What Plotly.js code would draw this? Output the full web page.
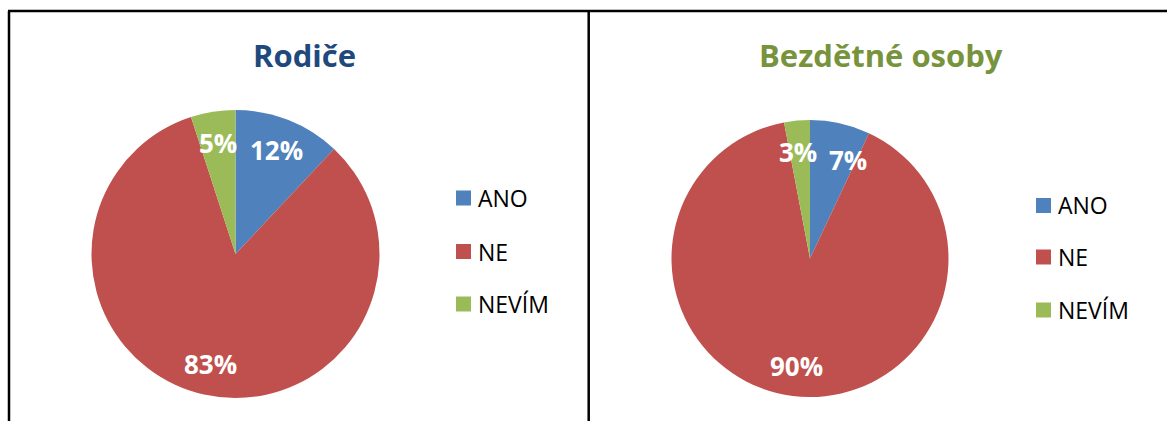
<!DOCTYPE html>
<html>
<head>
<meta charset="utf-8">
<script src="https://cdn.plot.ly/plotly-3.0.1.min.js"></script>
<style>html,body{margin:0;padding:0;background:#fff;}#chart{width:1167px;height:421px;}</style>
</head>
<body>
<div id="chart"></div>
<script>
// ---- data ----
const categories = ["ANO", "NE", "NEVÍM"];
const titles = ["Rodiče", "Bezdětné osoby"];
const parentsValues = [12, 83, 5];
const childlessValues = [7, 90, 3];
const sliceColors = ["#4F81BD", "#C0504D", "#9BBB59"];
const titleColors = ["#1F497D", "#77933C"];

// ---- layout helpers (pixels -> paper) ----
const W = 1167, H = 421;
const px = x => x / W;
const py = y => 1 - y / H;
const FONT = "Open Sans, Liberation Sans, sans-serif";

const pies = [
  {values: parentsValues, cx: 235.5, cy: 254, r: 144, titleX: 304, legendX: 456, legendY: [198, 251.5, 304],
   labelNudge: [[0, 0], [0, 0], [0, 0]]},
  {values: childlessValues, cx: 810, cy: 258.5, r: 138.5, titleX: 881, legendX: 1036, legendY: [205.5, 257, 310],
   labelNudge: [[14, 7], [0, 0], [-2, 1]]}
];

const data = [];
const annotations = [];
const shapes = [];

pies.forEach((p, i) => {
  data.push({
    type: "pie",
    labels: categories,
    values: p.values,
    sort: false,
    direction: "clockwise",
    rotation: 0,
    textinfo: "none",
    hoverinfo: "label+percent",
    showlegend: false,
    marker: {colors: sliceColors, line: {width: 0}},
    domain: {x: [px(p.cx - p.r), px(p.cx + p.r)], y: [py(p.cy + p.r), py(p.cy - p.r)]}
  });

  // title
  annotations.push({
    text: titles[i], xref: "paper", yref: "paper",
    x: px(p.titleX), y: py(55), xanchor: "center", yanchor: "middle", showarrow: false,
    font: {family: FONT, size: 31, color: titleColors[i], weight: "bold"}
  });

  // percentage labels
  const total = p.values.reduce((a, b) => a + b, 0);
  let cum = 0;
  p.values.forEach((v, k) => {
    const mid = (cum + v / 2) / total * 2 * Math.PI;
    cum += v;
    const f = 0.78;
    const x = p.cx + f * p.r * Math.sin(mid) + p.labelNudge[k][0];
    const y = p.cy - f * p.r * Math.cos(mid) + p.labelNudge[k][1];
    annotations.push({
      text: Math.round(v / total * 100) + "%", xref: "paper", yref: "paper",
      x: px(x), y: py(y), xanchor: "center", yanchor: "middle", showarrow: false,
      font: {family: FONT, size: 26, color: "#FFFFFF", weight: "bold"}
    });
  });

  // legend
  categories.forEach((c, k) => {
    const ly = p.legendY[k];
    shapes.push({
      type: "rect", xref: "paper", yref: "paper",
      x0: px(p.legendX), x1: px(p.legendX + 15), y0: py(ly + 7.5), y1: py(ly - 7.5),
      fillcolor: sliceColors[k], line: {width: 0}
    });
    annotations.push({
      text: c, xref: "paper", yref: "paper",
      x: px(p.legendX + 20), y: py(ly), xanchor: "left", yanchor: "middle", showarrow: false,
      font: {family: FONT, size: 23, color: "#000000"}
    });
  });
});

// frame lines
shapes.push({type: "line", xref: "paper", yref: "paper", x0: px(8), x1: px(1167), y0: py(11), y1: py(11), line: {color: "#000", width: 2.5}});
shapes.push({type: "line", xref: "paper", yref: "paper", x0: px(9), x1: px(9), y0: py(11), y1: py(421), line: {color: "#000", width: 2.5}});
shapes.push({type: "line", xref: "paper", yref: "paper", x0: px(588.7), x1: px(588.7), y0: py(11), y1: py(421), line: {color: "#000", width: 2.5}});

const layout = {
  width: W, height: H,
  margin: {l: 0, r: 0, t: 0, b: 0},
  paper_bgcolor: "#FFFFFF",
  plot_bgcolor: "#FFFFFF",
  showlegend: false,
  annotations: annotations,
  shapes: shapes,
  font: {family: FONT}
};

Plotly.newPlot("chart", data, layout, {displayModeBar: false, staticPlot: true});
</script>
</body>
</html>
